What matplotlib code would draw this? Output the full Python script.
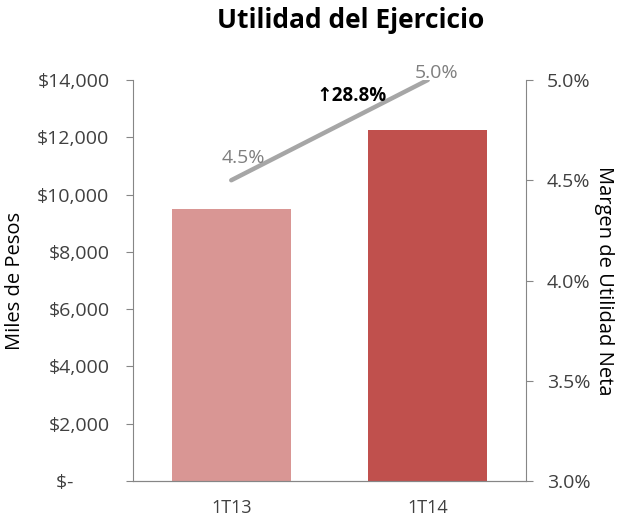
import matplotlib
matplotlib.use("Agg")
import matplotlib.pyplot as plt
from matplotlib.ticker import FuncFormatter

plt.rcParams['font.family'] = ['Open Sans', 'DejaVu Sans']

quarters = ['1T13', '1T14']
utilidad = [9500, 12240]          # miles de pesos
margen = [4.5, 5.0]               # %
bar_colors = ['#D99694', '#C0504D']
growth_label = '\u219128.8%'
label_offsets = [(9, 16), (6, 5)]  # points, for the margin labels

fig = plt.figure(figsize=(6.36, 5.18), dpi=100)
ax = fig.add_axes([133 / 636, 1 - 481 / 518, (526 - 133) / 636, (481 - 80) / 518])
ax2 = ax.twinx()

x = range(len(quarters))
ax.bar(x, utilidad, width=0.605, color=bar_colors, zorder=2)
ax.set_xlim(-0.5, 1.5)
ax.set_ylim(0, 14000)
ax.set_yticks(range(0, 14001, 2000))
ax.yaxis.set_major_formatter(FuncFormatter(lambda v, p: '$-       ' if v == 0 else f'${v:,.0f}'))
ax.set_xticks(list(x))
ax.set_xticklabels(quarters)
ax.set_ylabel('Miles de Pesos', fontsize=14.5, labelpad=9)

ax2.plot(x, margen, color='#A6A6A6', lw=3.2, solid_capstyle='round', zorder=3)
ax2.set_ylim(3.0, 5.0)
ax2.set_yticks([3.0, 3.5, 4.0, 4.5, 5.0])
ax2.yaxis.set_major_formatter(FuncFormatter(lambda v, p: f'{v:.1f}%'))
ax2.set_ylabel('Margen de Utilidad Neta', fontsize=14.5, rotation=270, labelpad=17)
for xi, m, off in zip(x, margen, label_offsets):
    ax2.annotate(f'{m:.1f}%', (xi, m), xytext=off, textcoords='offset points',
                 ha='center', va='center', fontsize=14, color='#7F7F7F')
ax2.text(0.61, 4.92, growth_label, ha='center', va='center', fontsize=13.5,
         fontweight='bold', color='black')

for a in (ax, ax2):
    for s in a.spines.values():
        s.set_color('#868686')
    a.spines['top'].set_visible(False)
    a.tick_params(axis='both', colors='#868686', labelcolor='#404040', labelsize=14, length=5)
ax.tick_params(axis='y', pad=12)
ax2.tick_params(axis='y', pad=10)
ax2.spines['left'].set_visible(False)
ax.spines['right'].set_visible(False)
ax.tick_params(axis='x', length=0, pad=13, labelsize=13, labelcolor='#404040')

fig.text(351 / 636, 1 - 21 / 518, 'Utilidad del Ejercicio', ha='center', va='center',
         fontsize=19, fontweight='bold')

fig.savefig('out.png', dpi=100)
